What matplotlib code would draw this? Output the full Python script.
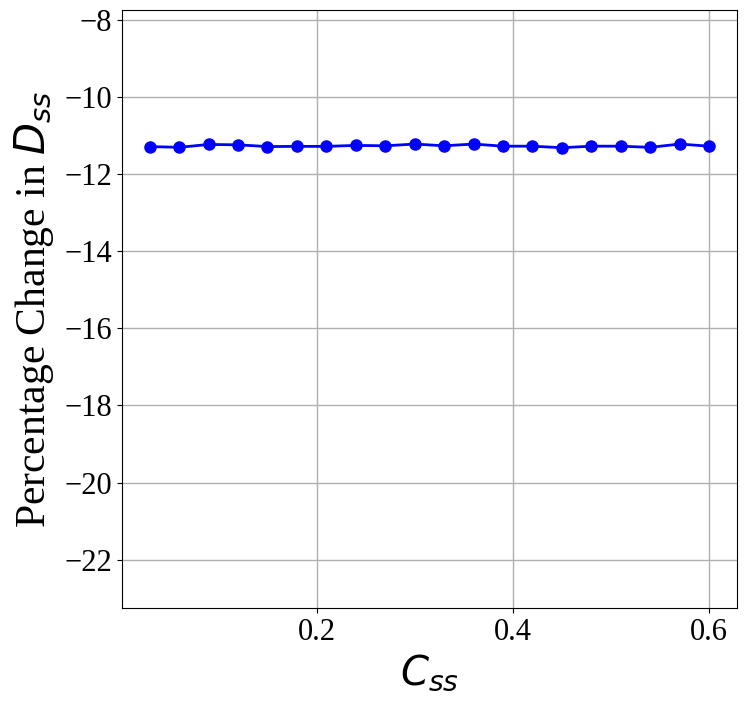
import matplotlib
matplotlib.use("Agg")
import matplotlib.pyplot as plt

c_ss = [0.03, 0.06, 0.09, 0.12, 0.15, 0.18, 0.21, 0.24, 0.27, 0.30,
        0.33, 0.36, 0.39, 0.42, 0.45, 0.48, 0.51, 0.54, 0.57, 0.60]
pct_change = [-11.29, -11.31, -11.235, -11.245, -11.29, -11.285, -11.285, -11.26, -11.27, -11.225,
              -11.27, -11.225, -11.28, -11.28, -11.32, -11.28, -11.28, -11.31, -11.225, -11.28]
y_ticks = [-22, -20, -18, -16, -14, -12, -10, -8]
x_ticks = [0.2, 0.4, 0.6]

plt.rcParams['font.family'] = ['Liberation Serif', 'DejaVu Serif']
plt.rcParams['mathtext.fontset'] = 'dejavusans'

fig = plt.figure(figsize=(7.47, 7.14), dpi=100)
ax = fig.add_axes([0.163, 0.1485, 0.8236, 0.8375])
ax.plot(c_ss, pct_change, color='blue', marker='o', markersize=8, linewidth=2)
ax.set_ylim(-23.25, -7.75)
ax.set_yticks(y_ticks)
ax.set_xticks(x_ticks)
ax.set_yticklabels([f"\u2212{abs(v)}" for v in y_ticks])
ax.set_xticklabels([f"{v:.1f}" for v in x_ticks])
ax.tick_params(labelsize=22)
ax.grid(True, color='#b0b0b0', linewidth=1)
ax.set_axisbelow(True)
ax.set_xlabel(r'$C_{ss}$', fontsize=29)
ax.set_ylabel(r'Percentage Change in $D_{ss}$', fontsize=30, labelpad=6)
fig.savefig('out.png', dpi=100)
